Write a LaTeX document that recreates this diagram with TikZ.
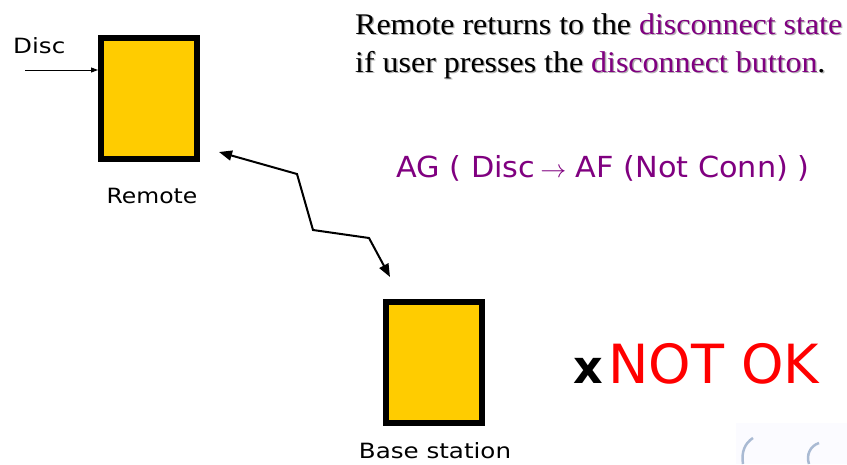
\documentclass[tikz,border=0pt]{standalone}
\usepackage{fontspec}
\setmainfont{Liberation Serif}
\newfontfamily\handfont{DejaVu Sans}
\usetikzlibrary{arrows.meta}
\definecolor{boxyellow}{HTML}{FFCC00}
\definecolor{notepurple}{HTML}{800080}
\definecolor{logoblue}{HTML}{A9BAD3}
\newcommand{\wide}[2]{\scalebox{#1}[1]{#2}}
\begin{document}
\begin{tikzpicture}[x=1pt,y=-1pt,
  statebox/.style={draw=black,line width=6pt,fill=boxyellow,minimum width=96pt,minimum height=121pt,inner sep=0pt},
  hand/.style={font=\handfont\fontsize{21}{24}\selectfont,inner sep=0pt},
  link/.style={line width=2pt,{Triangle[length=13pt,width=10pt]}-{Triangle[length=13pt,width=10pt]}},
  prose/.style={font=\fontsize{30}{33}\selectfont,inner sep=0pt,anchor=base west}]
\useasboundingbox (0,0) rectangle (847,464);
\fill[white] (0,0) rectangle (847,464);

% the two devices
\node[statebox] (remote) at (149,98) {};
\node[statebox] (base) at (433.5,362.5) {};
\node[hand,anchor=base] (remlbl) at (152,203) {\wide{1.12}{Remote}};
\node[hand,anchor=base] (baselbl) at (435,458) {\wide{1.17}{Base station}};

% disconnect input
\node[hand,anchor=base west] (disc) at (13,53) {\wide{1.17}{Disc}};
\coordinate (discin) at (25,70);
\draw[line width=0.9pt,-{Triangle[length=7pt,width=5pt]}] (discin) -- (remote.west |- discin);

% wireless link between remote and base station
\coordinate (rtip) at (219,152);
\coordinate (btip) at (390,277);
\draw[link] (rtip) -- (297,174) -- (313,230) -- (369,238) -- (btip);

% requirement text, with its soft shadow
\foreach \dx/\col/\pur in {1.3/black!30/black!30, 0/black/notepurple}{
  \node[prose,text=\col] (line1) at (355+\dx,34.5+\dx) {\wide{1.065}{Remote returns to the \textcolor{\pur}{disconnect state}}};
  \node[prose,text=\col] (line2) at (355+\dx,72.5+\dx) {\wide{1.065}{if user presses the \textcolor{\pur}{disconnect button}.}};
}

% formula and verdict
\node[hand,font=\handfont\fontsize{29}{32}\selectfont,text=notepurple,anchor=base] (formula) at (603,177) {\wide{1.045}{AG ( Disc\,$\rightarrow$ AF (Not Conn) )}};
\node[inner sep=0pt,anchor=base west,font=\handfont\bfseries\fontsize{46}{50}\selectfont] (cross) at (573,383) {x};
\node[inner sep=0pt,anchor=base west,text=red,font=\handfont\fontsize{54}{58}\selectfont] (verdict) at (608,383) {NOT OK};

% faint emblem in the corner
\fill[blue!1.5] (736,423) rectangle (847,464);
\draw[logoblue,line width=2.5pt] (753,438) .. controls (745,443) and (741,452) .. (743,464);
\draw[logoblue,line width=2.5pt] (819,443) .. controls (810,446) and (806,455) .. (809,464);
\end{tikzpicture}
\end{document}
